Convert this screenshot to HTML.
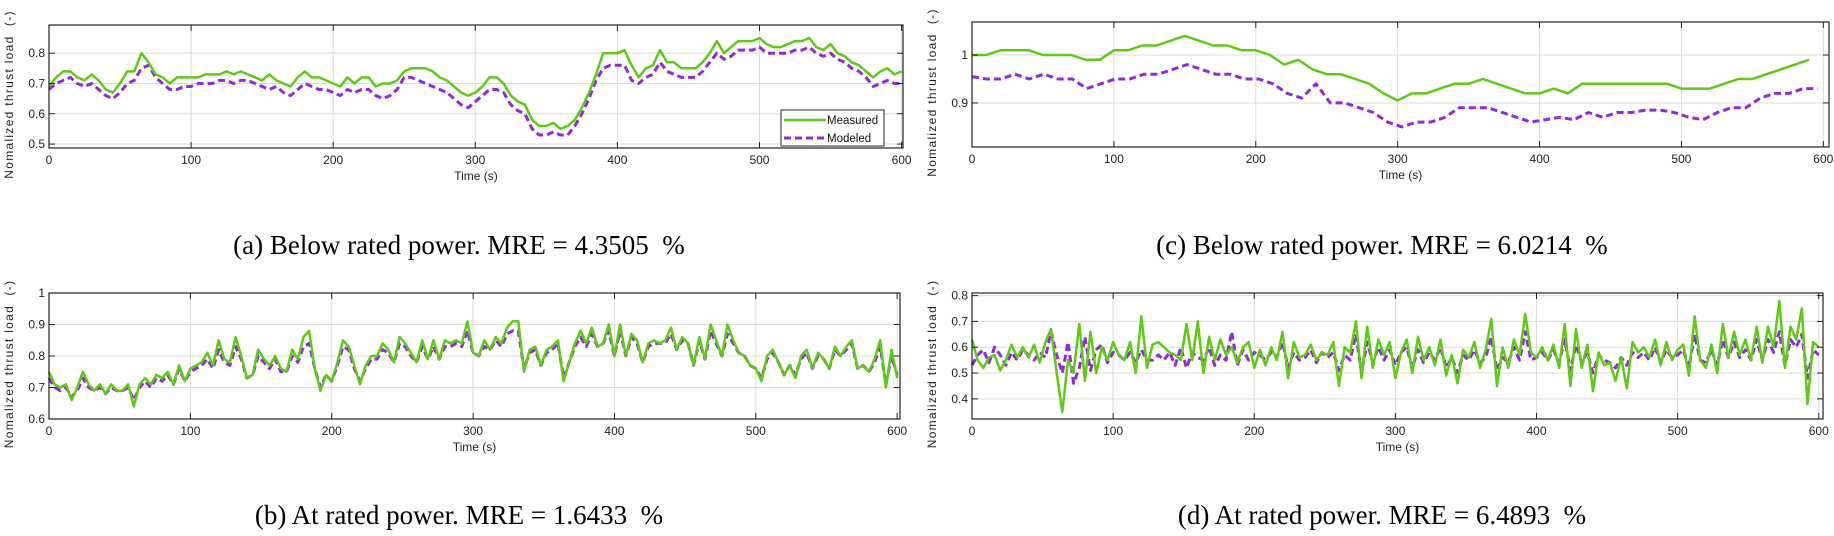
<!DOCTYPE html>
<html><head><meta charset="utf-8"><style>
body{margin:0;background:#fff;width:1834px;height:536px;overflow:hidden}
svg{display:block}
text{font-family:"Liberation Sans",sans-serif}
.cap{font-family:"Liberation Serif",serif;font-size:27px;fill:#000}
</style></head><body>
<svg id="chart" width="1834" height="536">
<text class="cap" x="459" y="254" text-anchor="middle">(a) Below rated power. MRE = 4.3505&#160;&#160;%</text>
<text class="cap" x="1382" y="254" text-anchor="middle">(c) Below rated power. MRE = 6.0214&#160;&#160;%</text>
<text class="cap" x="459" y="524" text-anchor="middle">(b) At rated power. MRE = 1.6433&#160;&#160;%</text>
<text class="cap" x="1382" y="524" text-anchor="middle">(d) At rated power. MRE = 6.4893&#160;&#160;%</text>
</svg>
<script>
const xTicks=[0,100,200,300,400,500,600];
const aYTicks=[0.5,0.6,0.7,0.8];
const aMeasured=[0.69,0.72,0.74,0.74,0.72,0.71,0.73,0.71,0.68,0.67,0.70,0.74,0.74,0.80,0.77,0.73,0.72,0.70,0.72,0.72,0.72,0.72,0.73,0.73,0.73,0.74,0.73,0.74,0.73,0.72,0.71,0.73,0.71,0.70,0.69,0.72,0.74,0.72,0.72,0.71,0.70,0.69,0.72,0.70,0.72,0.72,0.69,0.70,0.70,0.71,0.74,0.75,0.75,0.75,0.74,0.72,0.71,0.69,0.67,0.66,0.67,0.69,0.72,0.72,0.70,0.66,0.64,0.63,0.58,0.56,0.56,0.57,0.55,0.56,0.58,0.62,0.67,0.73,0.80,0.80,0.80,0.81,0.76,0.72,0.75,0.76,0.81,0.77,0.77,0.75,0.75,0.75,0.77,0.80,0.84,0.80,0.82,0.84,0.84,0.84,0.85,0.83,0.82,0.82,0.83,0.84,0.84,0.85,0.82,0.81,0.83,0.80,0.79,0.77,0.76,0.74,0.72,0.74,0.75,0.73,0.74];
const aModeled=[0.68,0.70,0.71,0.72,0.70,0.69,0.70,0.68,0.66,0.65,0.67,0.70,0.71,0.75,0.76,0.72,0.70,0.68,0.68,0.69,0.69,0.70,0.70,0.70,0.71,0.71,0.70,0.71,0.71,0.70,0.69,0.68,0.69,0.67,0.66,0.68,0.70,0.69,0.68,0.68,0.67,0.66,0.68,0.67,0.68,0.68,0.66,0.65,0.66,0.68,0.72,0.72,0.71,0.70,0.69,0.68,0.67,0.65,0.63,0.62,0.64,0.66,0.68,0.68,0.67,0.63,0.61,0.60,0.55,0.53,0.53,0.54,0.53,0.53,0.56,0.60,0.65,0.71,0.75,0.76,0.76,0.76,0.71,0.70,0.72,0.73,0.77,0.74,0.73,0.72,0.72,0.72,0.74,0.77,0.80,0.78,0.79,0.81,0.81,0.81,0.82,0.80,0.80,0.80,0.80,0.81,0.81,0.82,0.80,0.79,0.80,0.78,0.77,0.75,0.74,0.72,0.69,0.70,0.71,0.70,0.70];
const cYTicks=[0.9,1];
const cMeasured=[1.00,1.00,1.01,1.01,1.01,1.00,1.00,1.00,0.99,0.99,1.01,1.01,1.02,1.02,1.03,1.04,1.03,1.02,1.02,1.01,1.01,1.00,0.98,0.99,0.97,0.96,0.96,0.95,0.94,0.92,0.905,0.92,0.92,0.93,0.94,0.94,0.95,0.94,0.93,0.92,0.92,0.93,0.92,0.94,0.94,0.94,0.94,0.94,0.94,0.94,0.93,0.93,0.93,0.94,0.95,0.95,0.96,0.97,0.98,0.99];
const cModeled=[0.955,0.95,0.95,0.96,0.95,0.96,0.95,0.95,0.93,0.94,0.95,0.95,0.96,0.96,0.97,0.98,0.97,0.96,0.96,0.95,0.95,0.94,0.92,0.91,0.94,0.90,0.90,0.89,0.88,0.86,0.85,0.86,0.86,0.87,0.89,0.89,0.89,0.88,0.87,0.86,0.865,0.87,0.865,0.88,0.87,0.88,0.88,0.885,0.885,0.88,0.87,0.865,0.88,0.89,0.89,0.91,0.92,0.92,0.93,0.93];
const bYTicks=[0.6,0.7,0.8,0.9,1];
const bMeasured=[0.75,0.71,0.70,0.71,0.66,0.70,0.75,0.71,0.69,0.71,0.68,0.71,0.69,0.69,0.71,0.64,0.71,0.73,0.71,0.74,0.73,0.75,0.71,0.77,0.72,0.76,
0.77,0.78,0.81,0.77,0.85,0.79,0.78,0.86,0.80,0.73,0.74,0.82,0.79,0.77,0.80,0.76,0.75,0.82,0.79,0.86,0.88,0.76,0.69,0.74,0.72,
0.78,0.85,0.83,0.77,0.71,0.77,0.80,0.80,0.84,0.82,0.78,0.86,0.84,0.81,0.78,0.85,0.79,0.85,0.79,0.85,0.84,0.85,0.84,0.91,0.81,
0.80,0.85,0.82,0.86,0.84,0.89,0.91,0.91,0.75,0.82,0.83,0.77,0.82,0.83,0.85,0.72,0.78,0.84,0.88,0.84,0.89,0.83,0.84,0.90,0.80,
0.90,0.80,0.87,0.85,0.78,0.84,0.85,0.84,0.85,0.89,0.82,0.86,0.84,0.77,0.86,0.79,0.90,0.85,0.80,0.90,0.85,0.81,0.80,0.77,0.76,
0.72,0.80,0.82,0.78,0.74,0.77,0.73,0.80,0.82,0.76,0.81,0.79,0.76,0.83,0.80,0.83,0.85,0.76,0.77,0.75,0.79,0.85,0.70,0.82,0.73];
const bModeled=[0.73,0.70,0.69,0.70,0.67,0.69,0.73,0.70,0.69,0.70,0.68,0.70,0.69,0.69,0.70,0.66,0.70,0.72,0.70,0.73,0.72,0.74,0.71,0.76,0.72,0.75,
0.76,0.77,0.79,0.76,0.82,0.78,0.77,0.83,0.79,0.73,0.74,0.80,0.78,0.76,0.79,0.75,0.75,0.80,0.78,0.83,0.84,0.76,0.70,0.74,0.72,
0.77,0.83,0.82,0.76,0.72,0.76,0.79,0.79,0.82,0.81,0.78,0.84,0.83,0.80,0.78,0.83,0.79,0.83,0.79,0.83,0.83,0.84,0.83,0.88,0.81,
0.80,0.83,0.82,0.85,0.83,0.87,0.88,0.88,0.76,0.81,0.82,0.77,0.81,0.82,0.84,0.73,0.78,0.83,0.86,0.83,0.87,0.83,0.84,0.88,0.80,
0.88,0.80,0.86,0.84,0.78,0.83,0.84,0.84,0.84,0.87,0.82,0.85,0.84,0.77,0.85,0.79,0.88,0.84,0.80,0.87,0.84,0.81,0.80,0.77,0.76,
0.73,0.79,0.81,0.78,0.74,0.77,0.74,0.79,0.81,0.76,0.80,0.79,0.76,0.82,0.80,0.82,0.84,0.76,0.77,0.75,0.78,0.83,0.71,0.80,0.74];
const dYTicks=[0.4,0.5,0.6,0.7,0.8];
const dMeasured=[0.63,0.55,0.52,0.56,0.57,0.51,0.55,0.61,0.56,0.60,0.56,0.61,0.54,0.62,0.67,0.50,0.35,0.55,0.50,0.69,0.47,0.66,0.50,0.60,0.55,0.62,
0.57,0.55,0.62,0.50,0.72,0.52,0.61,0.62,0.60,0.58,0.57,0.55,0.69,0.55,0.70,0.50,0.64,0.55,0.63,0.57,0.60,0.54,0.60,0.62,0.52,
0.59,0.53,0.60,0.55,0.66,0.48,0.62,0.56,0.57,0.61,0.55,0.58,0.57,0.62,0.45,0.60,0.58,0.70,0.48,0.68,0.52,0.63,0.57,0.62,0.48,
0.58,0.63,0.50,0.64,0.55,0.60,0.53,0.63,0.49,0.57,0.46,0.59,0.56,0.62,0.52,0.59,0.71,0.45,0.60,0.52,0.63,0.57,0.73,0.58,0.56,
0.60,0.55,0.61,0.52,0.69,0.45,0.67,0.52,0.61,0.43,0.58,0.53,0.54,0.47,0.56,0.44,0.62,0.58,0.60,0.56,0.63,0.53,0.62,0.55,0.59,
0.61,0.49,0.72,0.55,0.52,0.61,0.50,0.69,0.56,0.66,0.57,0.63,0.55,0.68,0.54,0.68,0.60,0.78,0.52,0.68,0.63,0.75,0.38,0.62,0.60];
const dModeled=[0.53,0.57,0.59,0.54,0.60,0.57,0.53,0.58,0.55,0.59,0.57,0.55,0.58,0.56,0.66,0.57,0.50,0.62,0.46,0.52,0.64,0.51,0.59,0.61,0.54,0.58,
0.57,0.55,0.58,0.54,0.59,0.55,0.55,0.57,0.55,0.58,0.53,0.60,0.52,0.58,0.56,0.55,0.60,0.53,0.57,0.55,0.66,0.53,0.59,0.55,0.58,
0.57,0.55,0.58,0.56,0.62,0.52,0.58,0.55,0.56,0.59,0.54,0.58,0.56,0.58,0.51,0.57,0.55,0.65,0.50,0.62,0.54,0.60,0.55,0.59,0.53,
0.58,0.60,0.52,0.59,0.54,0.58,0.55,0.60,0.52,0.56,0.50,0.57,0.55,0.59,0.54,0.56,0.64,0.51,0.56,0.54,0.60,0.55,0.66,0.55,0.56,
0.58,0.55,0.59,0.54,0.63,0.51,0.61,0.54,0.58,0.50,0.57,0.55,0.54,0.52,0.56,0.53,0.58,0.56,0.58,0.55,0.60,0.54,0.59,0.56,0.57,
0.59,0.52,0.65,0.55,0.54,0.59,0.53,0.63,0.56,0.62,0.56,0.59,0.55,0.63,0.55,0.63,0.58,0.66,0.53,0.63,0.60,0.65,0.48,0.59,0.57];

const NS='http://www.w3.org/2000/svg';
const svg=document.getElementById('chart');
function el(tag,attrs,parent){const e=document.createElementNS(NS,tag);for(const k in attrs)e.setAttribute(k,attrs[k]);(parent||svg).appendChild(e);return e;}
const GREEN='#5ccc12',PURPLE='#9328de';

function panel(id,box,xmax,ymin,ymax,yTicks,meas,measEnd,mod,modEnd,labX,legend){
  const g=el('g',{});
  
  
  const X=t=>box.l+(t/xmax)*(box.r-box.l);
  const Y=v=>box.b-(v-ymin)/(ymax-ymin)*(box.b-box.t);
  xTicks.forEach(t=>{
    if(t>0&&t<xmax){const gl=el('line',{x1:X(t),x2:X(t),y1:box.t,y2:box.b,stroke:'#dcdcdc','stroke-width':1},g);
      }
  });
  yTicks.forEach(v=>{
    const gl=el('line',{x1:box.l,x2:box.r,y1:Y(v),y2:Y(v),stroke:'#dcdcdc','stroke-width':1},g);
    
  });
  function line(arr,endT,color,dash,name){
    const pts=arr.map((v,i)=>X(i*endT/(arr.length-1)).toFixed(1)+','+Y(v).toFixed(1)).join(' ');
    const p=el('polyline',{points:pts,fill:'none',stroke:color,'stroke-width':dash?3:2.5,'stroke-linejoin':'round','stroke-dasharray':dash?'7 4':'none'},g);
    
    
  }
  line(mod,modEnd,PURPLE,true,'modeled-line-'+id);
  line(meas,measEnd,GREEN,false,'measured-line-'+id);
  const fr=el('rect',{x:box.l,y:box.t,width:box.r-box.l,height:box.b-box.t,fill:'none',stroke:'#222','stroke-width':1.2},g);
  
  xTicks.forEach(t=>{
    el('line',{x1:X(t),x2:X(t),y1:box.b,y2:box.b-6,stroke:'#222'},g);
    el('line',{x1:X(t),x2:X(t),y1:box.t,y2:box.t+6,stroke:'#222'},g);
    const tl=el('text',{x:X(t),y:box.b+16,'font-size':12,'text-anchor':'middle',fill:'#222'},g);
    tl.textContent=t;
    
  });
  yTicks.forEach(v=>{
    el('line',{x1:box.l,x2:box.l+6,y1:Y(v),y2:Y(v),stroke:'#222'},g);
    el('line',{x1:box.r,x2:box.r-6,y1:Y(v),y2:Y(v),stroke:'#222'},g);
    const tl=el('text',{x:box.l-4,y:Y(v)+4,'font-size':12,'text-anchor':'end',fill:'#222'},g);
    tl.textContent=v;
    
  });
  const xt=el('text',{x:(box.l+box.r)/2,y:box.b+32,'font-size':12,'text-anchor':'middle',fill:'#222'},g);
  xt.textContent='Time (s)';
  
  const cy=(box.t+box.b)/2+8;
  const yt=el('text',{x:labX,y:cy,'font-size':12,'text-anchor':'middle',fill:'#222','letter-spacing':'1.3',transform:`rotate(-90 ${labX} ${cy})`},g);
  yt.textContent='Nomalized thrust load\u00a0\u00a0(-)';
  
  if(legend){
    const lg=el('g',{},g);
    
    el('rect',{x:781,y:110,width:103,height:36,fill:'#fff',stroke:'#222','stroke-width':1},lg);
    el('line',{x1:784,x2:826,y1:120,y2:120,stroke:GREEN,'stroke-width':2.5},lg);
    el('line',{x1:784,x2:826,y1:138,y2:138,stroke:PURPLE,'stroke-width':3,'stroke-dasharray':'7 4'},lg);
    const t1=el('text',{x:827,y:124,'font-size':11.5,fill:'#111'},lg);t1.textContent='Measured';
    
    const t2=el('text',{x:827,y:142,'font-size':11.5,fill:'#111'},lg);t2.textContent='Modeled';
    
  }
}
panel('a',{l:49,r:903,t:25,b:148},601,0.487,0.893,aYTicks,aMeasured,600,aModeled,600,13,true);
panel('c',{l:972,r:1829,t:22,b:147},604,0.808,1.069,cYTicks,cMeasured,590,cModeled,596,936,false);
panel('b',{l:49,r:900,t:293,b:419},602,0.6,1.0,bYTicks,bMeasured,600,bModeled,600,13,false);
panel('d',{l:972,r:1823,t:293,b:419},603,0.322,0.81,dYTicks,dMeasured,600,dModeled,600,936,false);
</script>
</body></html>
